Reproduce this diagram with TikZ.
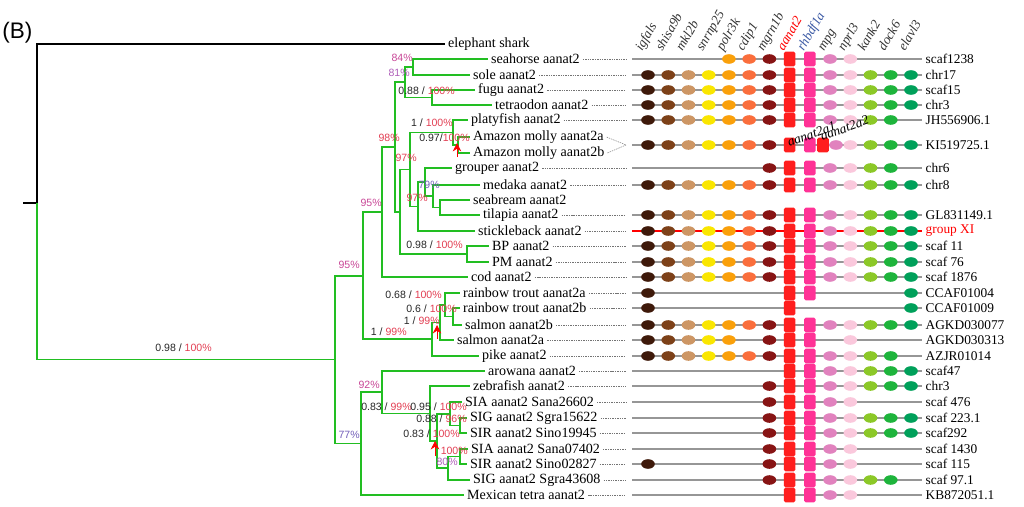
\documentclass[tikz,border=0pt]{standalone}
\usepackage{fontspec}
\setmainfont{Liberation Serif}
\newfontfamily\supfont{Liberation Sans}
\usetikzlibrary{shapes.geometric,arrows.meta}

\definecolor{brgreen}{RGB}{34,190,34}
\definecolor{bsred}{RGB}{226,62,82}
\definecolor{bspink}{RGB}{200,70,150}
\definecolor{bsviolet}{RGB}{175,95,185}
\definecolor{bsblue}{RGB}{115,95,185}
\definecolor{chrom}{RGB}{150,150,150}
\definecolor{hdrblue}{RGB}{60,90,165}
\definecolor{gc1}{RGB}{62,25,10}
\definecolor{gc2}{RGB}{125,65,25}
\definecolor{gc3}{RGB}{205,150,100}
\definecolor{gc4}{RGB}{250,230,0}
\definecolor{gc5}{RGB}{250,160,10}
\definecolor{gc6}{RGB}{250,110,60}
\definecolor{gc7}{RGB}{135,20,20}
\definecolor{gc8}{RGB}{255,30,30}
\definecolor{gc9}{RGB}{255,50,150}
\definecolor{gc10}{RGB}{225,130,190}
\definecolor{gc11}{RGB}{250,200,220}
\definecolor{gc12}{RGB}{140,200,40}
\definecolor{gc13}{RGB}{30,180,60}
\definecolor{gc14}{RGB}{0,160,90}

\newcommand{\bsup}[2]{{\color{black!85}#1 / }{\color{bsred}#2}}

\begin{document}
\begin{tikzpicture}[x=0.025cm,y=-0.025cm,
  br/.style={draw=brgreen,line width=1.3pt},
  brk/.style={draw=black,line width=1.8pt},
  leaf/.style={anchor=west,inner sep=2pt,font=\fontsize{10}{12}\selectfont},
  bs/.style={anchor=east,inner sep=0pt,font=\supfont\fontsize{7.5}{9}\selectfont},
  lead/.style={draw=black!55,line width=0.35pt,dash pattern=on 1pt off 0.7pt},
  chr/.style={draw=chrom,line width=0.9pt},
  rlab/.style={anchor=west,inner sep=1pt,font=\fontsize{9.5}{11}\selectfont},
  hdr/.style={anchor=base west,rotate=60,inner sep=0pt,font=\itshape\fontsize{9.5}{11}\selectfont},
  anno/.style={anchor=base west,rotate=20,inner sep=0pt,font=\itshape\fontsize{9.5}{11}\selectfont},
  oval/.style={ellipse,minimum width=0.34cm,minimum height=0.24cm,inner sep=0pt},
  box/.style={rectangle,rounded corners=1.2pt,minimum width=0.29cm,minimum height=0.37cm,inner sep=0pt},
  gs1/.style={oval,fill=gc1},  gs2/.style={oval,fill=gc2},  gs3/.style={oval,fill=gc3},
  gs4/.style={oval,fill=gc4},  gs5/.style={oval,fill=gc5},  gs6/.style={oval,fill=gc6},
  gs7/.style={oval,fill=gc7},  gs8/.style={box,fill=gc8},   gs9/.style={box,fill=gc9},
  gs10/.style={oval,fill=gc10},gs11/.style={oval,fill=gc11},gs12/.style={oval,fill=gc12},
  gs13/.style={oval,fill=gc13},gs14/.style={oval,fill=gc14},
  dup/.style={draw=red,line width=0.6pt,-{Stealth[length=6pt,width=6pt]}}]
\useasboundingbox (0,0) rectangle (1024,506);

\node[anchor=west,inner sep=0pt,font=\supfont\fontsize{16}{18}\selectfont] (panel) at (2,33) {(B)};

% taxa
\node[leaf] (shark) at (445,44) {elephant shark};
\node[leaf] (sea) at (488,59) {seahorse aanat2};
\node[leaf] (sole) at (470,75) {sole aanat2};
\node[leaf] (fugu) at (475,90) {fugu aanat2};
\node[leaf] (tetra) at (492,105) {tetraodon aanat2};
\node[leaf] (platy) at (468,120) {platyfish aanat2};
\node[leaf] (mola) at (470,137) {Amazon molly aanat2a};
\node[leaf] (molb) at (470,153) {Amazon molly aanat2b};
\node[leaf] (grouper) at (452,168) {grouper aanat2};
\node[leaf] (medaka) at (480,185) {medaka aanat2};
\node[leaf] (bream) at (470,200) {seabream aanat2};
\node[leaf] (tilapia) at (480,215) {tilapia aanat2};
\node[leaf] (stickle) at (475,231) {stickleback aanat2};
\node[leaf] (bp) at (489,246) {BP aanat2};
\node[leaf] (pm) at (489,262) {PM aanat2};
\node[leaf] (cod) at (468,277) {cod aanat2};
\node[leaf] (rta) at (460,293) {rainbow trout aanat2a};
\node[leaf] (rtb) at (460,308) {rainbow trout aanat2b};
\node[leaf] (salb) at (462,325) {salmon aanat2b};
\node[leaf] (sala) at (454,340) {salmon aanat2a};
\node[leaf] (pike) at (479,356) {pike aanat2};
\node[leaf] (arow) at (485,371) {arowana aanat2};
\node[leaf] (zebra) at (470,386) {zebrafish aanat2};
\node[leaf] (siaA) at (462,402) {SIA aanat2 Sana26602};
\node[leaf] (sigA) at (467,418) {SIG aanat2 Sgra15622};
\node[leaf] (sirA) at (467,433) {SIR aanat2 Sino19945};
\node[leaf] (siaB) at (468,449) {SIA aanat2 Sana07402};
\node[leaf] (sirB) at (467,464) {SIR aanat2 Sino02827};
\node[leaf] (sigB) at (470,480) {SIG aanat2 Sgra43608};
\node[leaf] (mex) at (464,495) {Mexican tetra aanat2};

% inner nodes of the tree
\path
  (37,203) coordinate(root)
  (23,203) coordinate(stub)
  (335,359.5) coordinate(nA)
  (363,276) coordinate(nB)
  (382,212) coordinate(nD)
  (395,147) coordinate(nC)
  (400,212) coordinate(nC2)
  (405,82) coordinate(nSF)
  (413,67) coordinate(nSS)
  (432,97.5) coordinate(nFT)
  (410,169.5) coordinate(nF)
  (453,132.5) coordinate(nM2)
  (458,145) coordinate(nM1)
  (418,206.5) coordinate(nG)
  (425,182) coordinate(nI)
  (433,196) coordinate(nH)
  (440,207.5) coordinate(nJ)
  (467,254) coordinate(nBP)
  (432,339) coordinate(nSP)
  (440,322.5) coordinate(nSA)
  (445,305) coordinate(nRT)
  (453,316.5) coordinate(nRB)
  (361,443.5) coordinate(nO)
  (382,392) coordinate(nAr)
  (430,413.5) coordinate(nCy)
  (437,441) coordinate(nSi)
  (450,414) coordinate(nSi1)
  (460,425.5) coordinate(nSi1a)
  (448,468) coordinate(nSi2)
  (460,456.5) coordinate(nSi2a)
  (626,0) coordinate(lx)
  (626,145) coordinate(mj);

\draw[brk] (stub) -- (root);
\draw[brk] (root) |- (shark);
\draw[br] (root) |- (nA);
\foreach \p/\c in {nA/nB,nA/nO,nB/nD,nB/nSP,nD/nC,nD/cod,nC/nSF,nC/nC2,
    nSF/nSS,nSF/nFT,nSS/sea,nSS/sole,nFT/fugu,nFT/tetra,nC2/nF,nC2/nBP,
    nF/nM2,nF/nG,nM2/platy,nM2/nM1,nM1/mola,nM1/molb,nG/nI,nG/stickle,
    nI/grouper,nI/nH,nH/medaka,nH/nJ,nJ/bream,nJ/tilapia,nBP/bp,nBP/pm,
    nSP/nSA,nSP/pike,nSA/nRT,nSA/sala,nRT/rta,nRT/nRB,nRB/rtb,nRB/salb,
    nO/nAr,nO/mex,nAr/arow,nAr/nCy,nCy/zebra,nCy/nSi,nSi/nSi1,nSi/nSi2,
    nSi1/siaA,nSi1/nSi1a,nSi1a/sigA,nSi1a/sirA,nSi2/nSi2a,nSi2/sigB,
    nSi2a/siaB,nSi2a/sirB}
  \draw[br] (\p) |- (\c);

% support values
\node[bs] (s1) at (212,348) {\bsup{0.98}{100\%}};
\node[bs] (s2) at (413,58) {\color{bspink}84\%};
\node[bs] (s3) at (410,73) {\color{bsviolet}81\%};
\node[bs] (s4) at (455,91) {\bsup{0.88}{100\%}};
\node[bs] (s5) at (453,123) {\bsup{1}{100\%}};
\node[bs] (s6) at (470,138) {{\color{black!85}0.97/}{\color{bsred}100\%}};
\node[bs] (s7) at (400,138) {\color{bsred}98\%};
\node[bs] (s8) at (417,158) {\color{bsred}97\%};
\node[bs] (s9) at (440,185) {\color{bsblue}79\%};
\node[bs] (s10) at (428,198) {\color{bsred}97\%};
\node[bs] (s11) at (382,203) {\color{bspink}95\%};
\node[bs] (s12) at (463,245) {\bsup{0.98}{100\%}};
\node[bs] (s13) at (360,265) {\color{bspink}95\%};
\node[bs] (s14) at (442,295) {\bsup{0.68}{100\%}};
\node[bs] (s15) at (457,309) {\bsup{0.6}{100\%}};
\node[bs] (s16) at (440,321) {\bsup{1}{99\%}};
\node[bs] (s17) at (407,332) {\bsup{1}{99\%}};
\node[bs] (s18) at (380,385) {\color{bspink}92\%};
\node[bs] (s19) at (412,407) {\bsup{0.83}{99\%}};
\node[bs] (s20) at (467,407) {\bsup{0.95}{100\%}};
\node[bs] (s21) at (467,419) {\bsup{0.88}{96\%}};
\node[bs] (s22) at (460,434) {\bsup{0.83}{100\%}};
\node[bs] (s23) at (360,435) {\color{bsblue}77\%};
\node[bs] (s24) at (468,451) {\color{bsred}100\%};
\node[bs] (s25) at (458,462) {\color{bsviolet}80\%};

% duplication arrows
\path (457,157) coordinate(d1a) (457,143) coordinate(d1b)
      (437,339) coordinate(d2a) (437,325) coordinate(d2b)
      (435,456) coordinate(d3a) (435,441) coordinate(d3b);
\draw[dup] (d1a) -- (d1b);
\draw[dup] (d2a) -- (d2b);
\draw[dup] (d3a) -- (d3b);

% leaders to the synteny rows
\foreach \n in {sea,sole,fugu,tetra,platy,grouper,medaka,tilapia,stickle,bp,pm,cod,
    rta,rtb,salb,sala,pike,arow,zebra,siaA,sigA,sirA,siaB,sirB,sigB,mex}
  \draw[lead] (\n.east) -- (\n.east -| lx);
\draw[lead] (mola.east) -- (mj);
\draw[lead] (molb.east) -- (mj);

% gene names
\foreach \g/\nm/\cl in {1/igfals/black!80,2/shisa9b/black!80,3/mkl2b/black!80,
    4/snrnp25/black!80,5/polr3k/black!80,6/cdip1/black!80,7/mgrn1b/black!80,
    8/aanat2/red,9/rhbdf1a/hdrblue,10/mpg/black!80,11/nprl3/black!80,
    12/kank2/black!80,13/dock6/black!80,14/elavl3/black!80}
  \node[hdr,text=\cl] (h\g) at ({642+20.23*(\g-1)},52) {\nm};

% synteny rows
\foreach \y/\lab/\gs in {59/scaf1238/{5,...,11},75/chr17/{1,...,14},
    90/scaf15/{1,...,14},105/chr3/{1,...,14},120/JH556906.1/{1,...,13},
    145/KI519725.1/{1,2,3,4,5,6,7,8,9,11,12,13,14},168/chr6/{7,...,13},
    185/chr8/{1,...,14},215/GL831149.1/{1,...,14},246/scaf 11/{1,...,14},
    262/scaf 76/{1,...,14},277/scaf 1876/{1,...,14},293/CCAF01004/{1,8,9,14},
    308/CCAF01009/{1,8,14},325/AGKD030077/{1,...,14},
    340/AGKD030313/{1,2,3,4,5,7,8,9,11},356/AZJR01014/{1,...,13},
    371/scaf47/{8,...,14},386/chr3/{7,...,14},402/scaf 476/{7,...,11},
    418/scaf 223.1/{7,...,14},433/scaf292/{7,...,14},449/scaf 1430/{7,...,11},
    464/scaf 115/{1,7,8,9,10,11},480/scaf 97.1/{7,...,13},495/KB872051.1/{8,...,11}}
{
  \path (632,\y) coordinate(cl) (922,\y) coordinate(cr);
  \draw[chr] (cl) -- (cr);
  \foreach \g in \gs
    \node[gs\g] (m\y-\g) at ({648+20.23*(\g-1)},\y) {};
  \node[rlab] (r\y) at (924,\y) {\lab};
}
\node[gs8] (mxa) at (823,145) {};
\node[gs10] (mxb) at (836,145) {};
\node[anno] (a1) at (789,147) {aanat2a1};
\node[anno] (a2) at (822,141) {aanat2a2};

% group XI row
\path (632,231) coordinate(gxl) (922,231) coordinate(gxr);
\draw[chr,draw=red,line width=1.6pt] (gxl) -- (gxr);
\foreach \g in {1,...,14}
  \node[gs\g] (mx-\g) at ({648+20.23*(\g-1)},231) {};
\node[rlab,text=red] (rgx) at (924,231) {group XI};
\end{tikzpicture}
\end{document}
